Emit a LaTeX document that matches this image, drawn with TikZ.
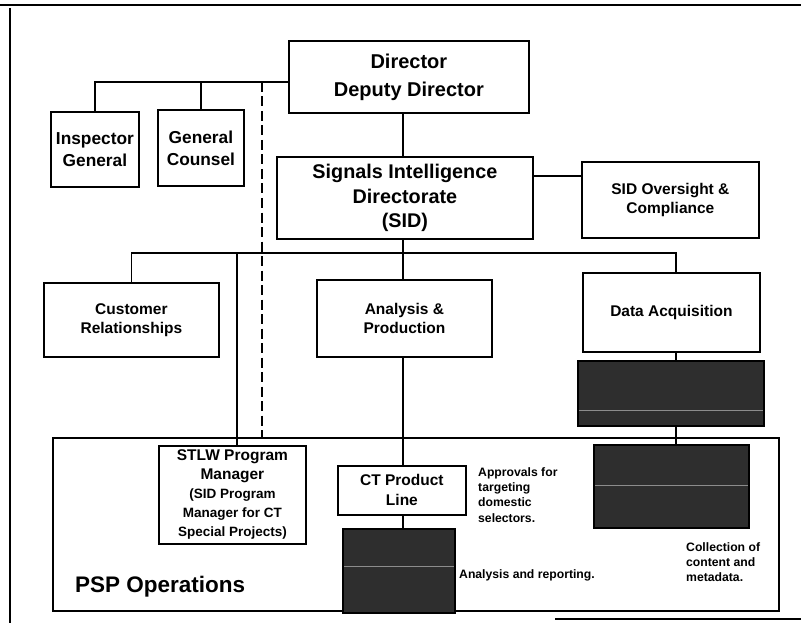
\documentclass[tikz,border=0pt]{standalone}
\usepackage{fontspec}
\setmainfont{Liberation Sans}
\begin{document}
\begin{tikzpicture}[x=1pt,y=-1pt,
  box/.style={draw=black,line width=1.8pt,fill=white,inner sep=0pt,anchor=north west,align=center,font=\bfseries},
  redact/.style={draw=black,line width=1.5pt,fill=black!82,inner sep=0pt,anchor=north west},
  conn/.style={draw=black,line width=1.8pt},
  dashline/.style={draw=black,line width=2.4pt,dash pattern=on 10pt off 4.5pt},
  note/.style={anchor=west,align=left,inner sep=0pt,font=\bfseries\fontsize{12.2}{15.2}\selectfont}
]
\useasboundingbox (0,0) rectangle (801,623);
% frame lines
\draw[line width=2.5pt] (0,5) -- (801,5);
\draw[line width=1.5pt] (10,8) -- (10,623);
\draw[line width=2pt] (555,619) -- (801,619);

% PSP operations box
\node[box,line width=1.6pt,minimum width=726pt,minimum height=173pt] (psp) at (52,437) {};
\node[anchor=west,inner sep=0pt,font=\bfseries\fontsize{22.5}{24}\selectfont] (psplabel) at (75,587) {PSP Operations};

% boxes
\node[box,minimum width=240pt,minimum height=72pt,font=\bfseries\fontsize{20}{28}\selectfont] (dir) at (288,40) {Director\\Deputy Director};
\node[box,minimum width=88pt,minimum height=75pt,font=\bfseries\fontsize{17.3}{22}\selectfont] (ig) at (50,111) {Inspector\\General};
\node[box,minimum width=86pt,minimum height=76pt,font=\bfseries\fontsize{17.3}{22}\selectfont] (gc) at (157,109) {General\\Counsel};
\node[box,minimum width=256pt,minimum height=82pt,font=\bfseries\fontsize{19.8}{24.5}\selectfont] (sid) at (276,156) {Signals Intelligence\\Directorate\\(SID)};
\node[box,minimum width=177pt,minimum height=76pt,font=\bfseries\fontsize{15.5}{19}\selectfont] (ovs) at (581,161) {SID Oversight \&\\Compliance};
\node[box,minimum width=175pt,minimum height=74pt,font=\bfseries\fontsize{15.5}{19}\selectfont] (cr) at (43,282) {Customer\\Relationships};
\node[box,minimum width=175pt,minimum height=77pt,font=\bfseries\fontsize{15.5}{19}\selectfont] (ap) at (316,279) {Analysis \&\\Production};
\node[box,minimum width=177pt,minimum height=79pt,font=\bfseries\fontsize{15.5}{18}\selectfont] (da) at (582,272) {Data Acquisition};
\node[redact,minimum width=186pt,minimum height=65pt] (r1) at (577,360) {};
\node[redact,minimum width=155pt,minimum height=83pt] (r2) at (593,444) {};
\node[box,minimum width=147pt,minimum height=98pt,font=\bfseries\fontsize{15.5}{19}\selectfont] (stlw) at (158,445) {STLW Program\\Manager\\{\fontsize{13.5}{16.5}\selectfont (SID Program}\\{\fontsize{13.5}{16.5}\selectfont Manager for CT}\\{\fontsize{13.5}{16.5}\selectfont Special Projects)}};
\node[box,minimum width=128pt,minimum height=49pt,font=\bfseries\fontsize{15.5}{20}\selectfont] (ct) at (337,465) {CT Product\\Line};
\node[redact,minimum width=112pt,minimum height=84pt] (r3) at (342,528) {};

% faint scan lines inside redactions
\draw[black!45,line width=0.8pt] ([xshift=2pt]r1.west |- 0,410) -- ([xshift=-2pt]r1.east |- 0,410);
\draw[black!45,line width=0.8pt] ([xshift=2pt]r2.west |- 0,485) -- ([xshift=-2pt]r2.east |- 0,485);
\draw[black!45,line width=0.8pt] ([xshift=2pt]r3.west |- 0,566) -- ([xshift=-2pt]r3.east |- 0,566);

% notes
\node[note] (n1) at (478,495) {Approvals for\\targeting\\domestic\\selectors.};
\node[note] (n2) at (459,575) {Analysis and reporting.};
\node[note] (n3) at (686,562) {Collection of\\content and\\metadata.};

% connector coordinates
\coordinate (dirL) at (288,82);
\coordinate (dsh) at (262,82);
\coordinate (bus) at (132,253);
\coordinate (stb) at (237,253);
\coordinate (sidx) at (403,0);
\coordinate (dax) at (676,0);

% connectors
\draw[conn] (ig.north) |- (dirL);
\draw[conn] (gc.north) -- (gc.north |- dirL);
\draw[dashline] (dsh) -- (dsh |- psp.north);
\draw[conn] (sidx |- dir.south) -- (sidx |- sid.north);
\draw[conn] (sid.east |- 0,176) -- (ovs.west |- 0,176);
\draw[conn] (sidx |- sid.south) -- (sidx |- bus);
\draw[conn] (cr.north) |- (dax |- bus) -- (dax |- da.north);
\draw[conn] (sidx |- bus) -- (sidx |- ap.north);
\draw[conn] (stb) -- (stb |- stlw.north);
\draw[conn] (sidx |- ap.south) -- (sidx |- ct.north);
\draw[conn] (sidx |- ct.south) -- (sidx |- r3.north);
\draw[conn] (dax |- da.south) -- (dax |- r1.north);
\draw[conn] (dax |- r1.south) -- (dax |- r2.north);
\end{tikzpicture}
\end{document}
